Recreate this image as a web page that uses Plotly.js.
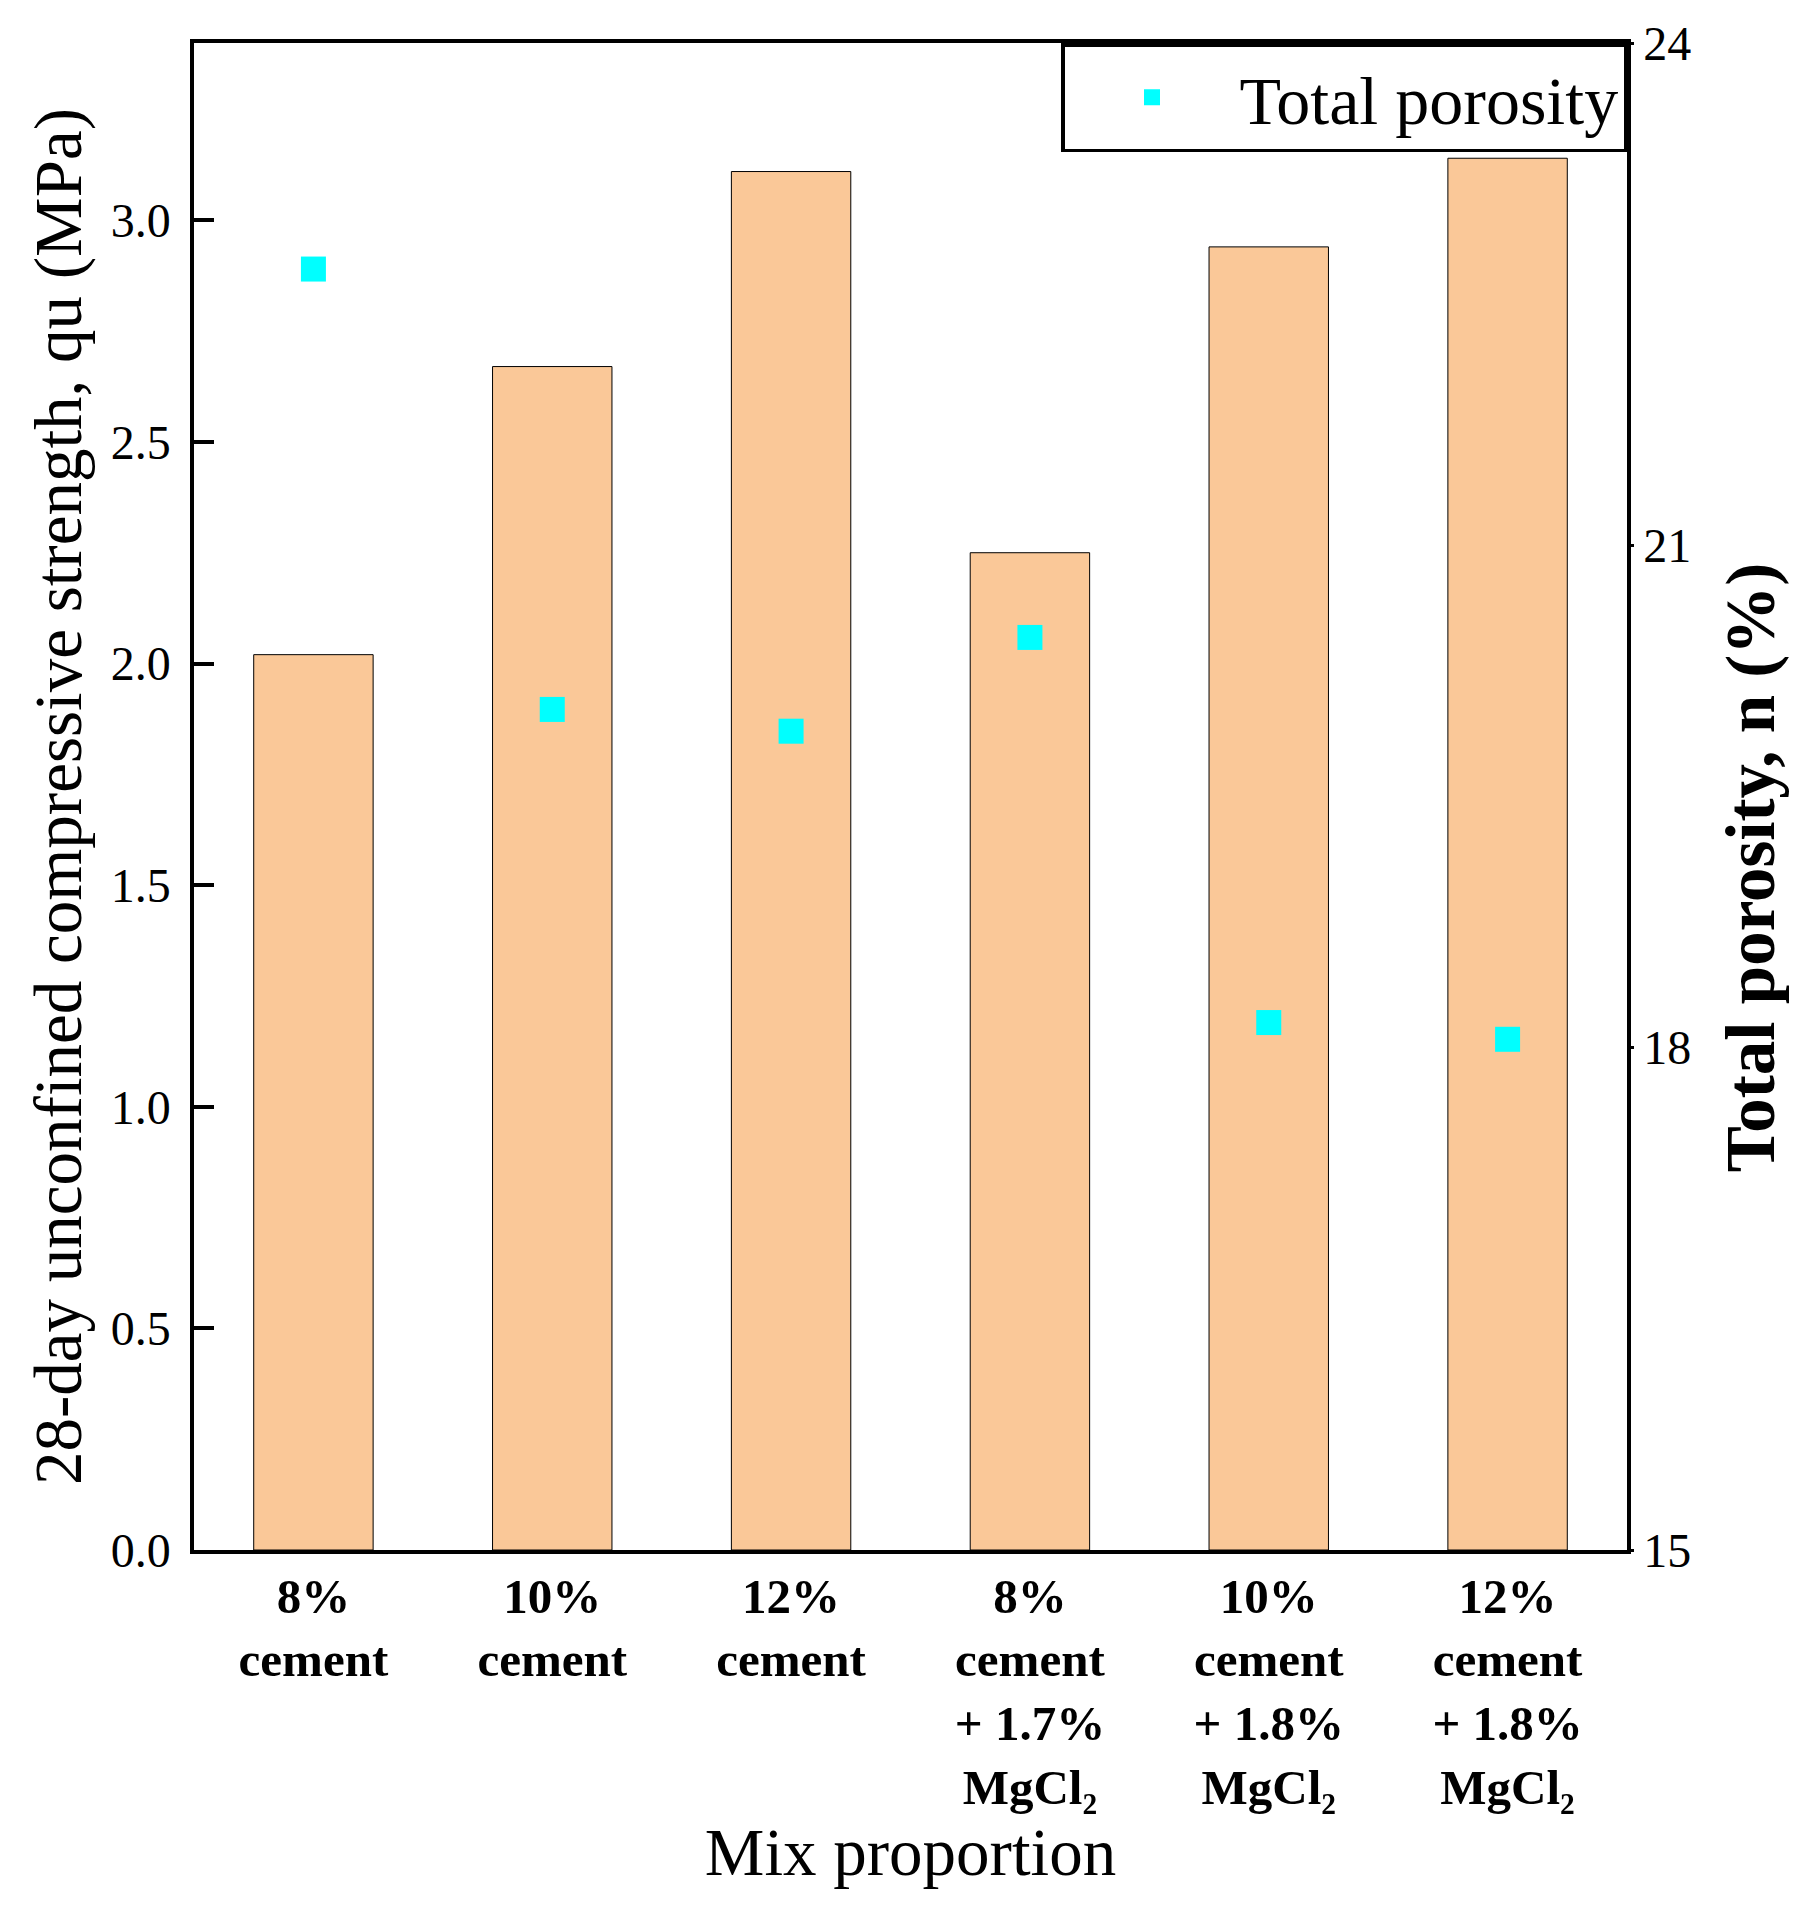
<!DOCTYPE html>
<html>
<head>
<meta charset="utf-8">
<script src="https://cdn.plot.ly/plotly-3.0.1.min.js"></script>
<style>
  body { margin: 0; background: #fff; }
  #plot { width: 1808px; height: 1910px; }
</style>
</head>
<body>
<div id="plot"></div>
<script>
// mix proportions (x categories)
var mixes = [
  "8%<br>cement",
  "10%<br>cement",
  "12%<br>cement",
  "8%<br>cement<br>+ 1.7%<br>MgCl₂",
  "10%<br>cement<br>+ 1.8%<br>MgCl₂",
  "12%<br>cement<br>+ 1.8%<br>MgCl₂"
];

// 28-day UCS, MPa (left axis)
var strength = [2.02, 2.67, 3.11, 2.25, 2.94, 3.14];

// total porosity, % (right axis)
var porosity = [22.65, 20.02, 19.89, 20.45, 18.15, 18.05];

var serif = "Liberation Serif, Times New Roman, serif";

var barTrace = {
  x: mixes,
  y: strength,
  type: "bar",
  width: 0.5,
  marker: { color: "#FAC898", line: { color: "#000", width: 1 } },
  showlegend: false,
  hoverinfo: "y"
};

var poreTrace = {
  x: mixes,
  y: porosity,
  yaxis: "y2",
  type: "scatter",
  mode: "markers",
  name: "Total porosity",
  marker: { symbol: "square", size: 25, color: "#00FFFF" }
};

var layout = {
  width: 1808,
  height: 1910,
  margin: { l: 194, r: 181, t: 43, b: 360 },
  paper_bgcolor: "#fff",
  plot_bgcolor: "#fff",
  font: { family: serif, color: "#000", size: 48 },
  xaxis: {
    range: [-0.5, 5.5],
    showline: true,
    linecolor: "#000",
    linewidth: 3.5,
    mirror: true,
    ticks: "",
    showgrid: false,
    zeroline: false,
    tickfont: { family: serif, size: 49, weight: "bold" },
    ticklabelstandoff: 0,
    title: { text: "Mix proportion", font: { family: serif, size: 67 }, standoff: 0 }
  },
  yaxis: {
    range: [0, 3.4],
    dtick: 0.5,
    tickformat: ".1f",
    showline: true,
    linecolor: "#000",
    linewidth: 3.5,
    ticks: "inside",
    ticklen: 20,
    tickwidth: 3.5,
    tickcolor: "#000",
    showgrid: false,
    zeroline: false,
    tickfont: { family: serif, size: 48 },
    ticklabelstandoff: 10,
    title: {
      text: "28-day unconfined compressive strength, qu (MPa)",
      font: { family: serif, size: 67 },
      standoff: 8
    }
  },
  yaxis2: {
    overlaying: "y",
    side: "right",
    range: [15, 24],
    dtick: 3,
    showline: true,
    linecolor: "#000",
    linewidth: 3.5,
    ticks: "outside",
    ticklen: 3,
    tickwidth: 3,
    tickcolor: "#000",
    showgrid: false,
    zeroline: false,
    tickfont: { family: serif, size: 48 }
  },
  annotations: [{
    // right axis title sits below the plot centre in the original
    text: "<b>Total porosity, n (%)</b>",
    xref: "paper",
    yref: "paper",
    x: 1,
    y: 0.453,
    xanchor: "center",
    yanchor: "middle",
    xshift: 124,
    textangle: -90,
    showarrow: false,
    font: { family: serif, size: 69 }
  }],
  legend: {
    x: 1,
    xanchor: "right",
    y: 1,
    yanchor: "top",
    bgcolor: "#fff",
    bordercolor: "#000",
    borderwidth: 3.5,
    itemwidth: 165,
    font: { family: serif, size: 68 }
  },
  showlegend: true
};

Plotly.newPlot("plot", [barTrace, poreTrace], layout, { displayModeBar: false });
</script>
</body>
</html>
